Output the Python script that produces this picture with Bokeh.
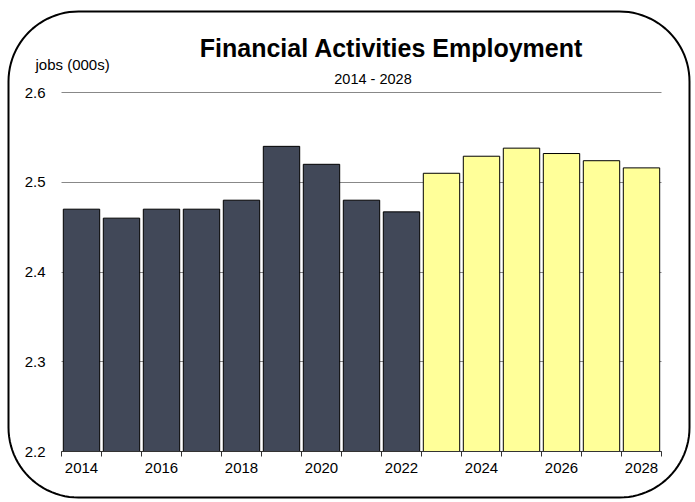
import math
from bokeh.plotting import figure
from bokeh.models import Range1d, FixedTicker, ColumnDataSource
from bokeh.core.properties import value
from bokeh.embed import file_html
from bokeh.resources import INLINE

# ---- data ----
hist_years = [2014, 2015, 2016, 2017, 2018, 2019, 2020, 2021, 2022]
hist_values = [2.47, 2.46, 2.47, 2.47, 2.48, 2.54, 2.52, 2.48, 2.467]
proj_years = [2023, 2024, 2025, 2026, 2027, 2028]
proj_values = [2.51, 2.529, 2.538, 2.532, 2.524, 2.516]
x_tick_labels = [2014, 2016, 2018, 2020, 2022, 2024, 2026, 2028]
y_ticks = [2.2, 2.3, 2.4, 2.5, 2.6]

title_text = "Financial Activities Employment"
subtitle_text = "2014 - 2028"
y_label_text = "jobs (000s)"

FONT = "Liberation Sans"
DARK = "#414858"
YELLOW = "#FFFF99"

# ---- layout (canvas pixels) ----
W, H = 691, 499
ML, MT = 61, 92          # plot area offset in canvas
FW, FH = 600, 359        # plot area size
XA, XB = 2013.5, 2028.5  # category extent
YA, YB = 2.2, 2.6        # value extent

def dx(cx):
    return XA + (cx - ML) * (XB - XA) / FW

def dy(cy):
    return YB - (cy - MT) * (YB - YA) / FH

p = figure(width=W, height=H, output_backend="svg", toolbar_location=None,
           x_range=Range1d(dx(0), dx(W)), y_range=Range1d(dy(H), dy(0)),
           min_border=0, min_border_left=0, min_border_right=0,
           min_border_top=0, min_border_bottom=0, title=None)
p.outline_line_color = None
p.background_fill_color = "white"
p.border_fill_color = "white"

# grid
p.xgrid.grid_line_color = None
p.ygrid.ticker = FixedTicker(ticks=y_ticks)
p.ygrid.grid_line_color = "#888888"
p.ygrid.grid_line_width = 1
p.ygrid.bounds = (YA, YB)
try:
    p.ygrid.cross_bounds = (XA, XB)
except Exception:
    p.ygrid.grid_line_color = None
    p.segment(x0=[XA] * len(y_ticks), x1=[XB] * len(y_ticks), y0=y_ticks, y1=y_ticks,
              line_color="#888888", line_width=1, level="underlay")

# bars
hist_src = ColumnDataSource(dict(x=hist_years, top=hist_values))
proj_src = ColumnDataSource(dict(x=proj_years, top=proj_values))
p.vbar(x="x", top="top", bottom=YA, width=0.91, source=hist_src,
       fill_color=DARK, line_color="black", line_width=1)
p.vbar(x="x", top="top", bottom=YA, width=0.91, source=proj_src,
       fill_color=YELLOW, line_color="black", line_width=1)

# x axis (placed at the value baseline)
all_years = hist_years + proj_years
xa = p.xaxis[0]
xa.fixed_location = YA
xa.bounds = (XA, XB)
xa.ticker = FixedTicker(ticks=x_tick_labels,
                        minor_ticks=[y - 0.5 for y in all_years] + [all_years[-1] + 0.5])
xa.major_tick_out = 0
xa.major_tick_in = 0
xa.minor_tick_out = 5
xa.minor_tick_in = 0
xa.minor_tick_line_color = "#333333"
xa.axis_line_color = "#333333"
xa.major_label_standoff = 6
xa.major_label_text_font = FONT
xa.major_label_text_font_size = "15px"
xa.major_label_text_color = "black"

# y axis (placed at left edge of the categories)
ya = p.yaxis[0]
ya.fixed_location = XA
ya.bounds = (YA, YB)
ya.ticker = FixedTicker(ticks=y_ticks)
ya.minor_tick_line_color = None
ya.major_tick_line_color = None
ya.major_tick_out = 0
ya.major_tick_in = 0
ya.axis_line_color = None
ya.major_label_standoff = 16
ya.major_label_text_font = FONT
ya.major_label_text_font_size = "15px"
ya.major_label_text_color = "black"

# texts
p.text(x=[dx(391)], y=[dy(47)], text=[title_text], text_font=value(FONT),
       text_font_size="25px", text_font_style="bold", text_align="center",
       text_baseline="alphabetic", text_color="black")
p.text(x=[dx(372.5)], y=[dy(78)], text=[subtitle_text], text_font=value(FONT),
       text_font_size="14.5px", text_align="center",
       text_baseline="alphabetic", text_color="black")
p.text(x=[dx(35)], y=[dy(64)], text=[y_label_text], text_font=value(FONT),
       text_font_size="15px", text_align="left",
       text_baseline="alphabetic", text_color="black")

# rounded outer frame (decoration)
BL, BT, BR, BB, RAD = 8, 11, 689, 497, 70
corners = [(BR - RAD, BT + RAD, -90, 0), (BR - RAD, BB - RAD, 0, 90),
           (BL + RAD, BB - RAD, 90, 180), (BL + RAD, BT + RAD, 180, 270)]
px, py = [], []
for cx, cy, a0, a1 in corners:
    for k in range(25):
        a = math.radians(a0 + (a1 - a0) * k / 24)
        px.append(dx(cx + RAD * math.cos(a)))
        py.append(dy(cy + RAD * math.sin(a)))
px.append(px[0])
py.append(py[0])
p.line(x=px, y=py, line_color="black", line_width=2)

open("out.html", "w").write(file_html(p, INLINE))
